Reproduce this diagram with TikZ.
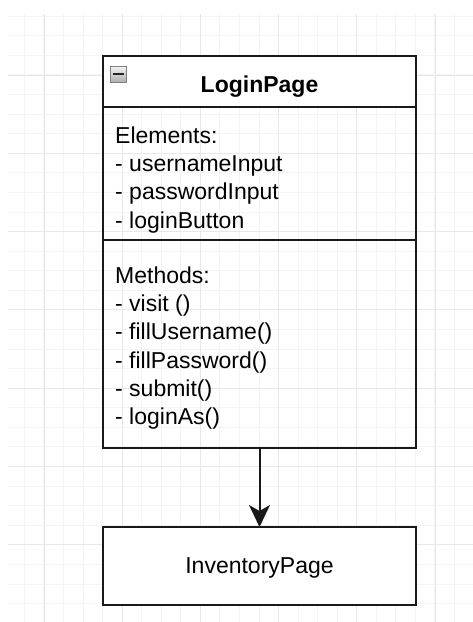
\documentclass[tikz,border=0pt]{standalone}
\usepackage{fontspec}
\setmainfont{Liberation Sans}
\usetikzlibrary{arrows.meta}
\usetikzlibrary{positioning}

\definecolor{gridminor}{HTML}{F4F4F4}
\definecolor{gridmajor}{HTML}{E8E8E8}
\definecolor{iconlight}{HTML}{F2F2F2}
\definecolor{icondark}{HTML}{ACACAC}

\begin{document}
\begin{tikzpicture}[
  x = 1pt, y = -1pt,
  > = {Stealth[length=22pt,width=21pt,inset=6pt]},
  every node/.style = {font=\fontsize{23}{28.3}\selectfont},
  umlbox/.style = {draw=black!90,line width=1.9pt,minimum width=313pt,inner sep=0pt,outer sep=0pt},
  members/.style = {anchor=north west,align=left,inner sep=0pt}
  ]
  \useasboundingbox (0,0) rectangle (473,622);
  \fill[white] (0,0) rectangle (473,622);

  % background grid
  \begin{scope}
    \clip (8,14) rectangle (473,622);
    \foreach \k in {0,...,23}
      \draw[gridminor,line width=1pt] ({24.4+\k*19.55},14) -- ({24.4+\k*19.55},622);
    \foreach \k in {0,...,31}
      \draw[gridminor,line width=1pt] (8,{16.2+\k*19.58}) -- (473,{16.2+\k*19.58});
    \foreach \k in {0,...,5}
      \draw[gridmajor,line width=1pt] ({44+\k*78.2},14) -- ({44+\k*78.2},622);
    \foreach \k in {0,...,6}
      \draw[gridmajor,line width=1pt] (8,{75+\k*78.32}) -- (473,{75+\k*78.32});
  \end{scope}

  % class box
  \node[umlbox,fill=white,minimum height=51pt] (header) at (259.5,81.5) {};
  \node[umlbox,minimum height=133pt,below=0pt of header] (elements) {};
  \node[umlbox,minimum height=208pt,below=0pt of elements] (methods) {};
  \node[anchor=base,font=\fontsize{23}{28.3}\selectfont\bfseries] (loginname)
    at ([yshift=15pt]header.south) {LoginPage};

  % collapse icon
  \shade[top color=iconlight,bottom color=icondark,draw=gray,line width=0.8pt]
    (110.5,66.5) rectangle (126,82.5);
  \fill[black!85] (113,72.6) rectangle (123.6,74.8);

  \node[members] (elementlist) at ([xshift=12pt,yshift=-19.5pt]elements.north west)
    {Elements:\\- usernameInput\\- passwordInput\\- loginButton};
  \node[members] (methodlist) at ([xshift=12pt,yshift=-26.5pt]methods.north west)
    {Methods:\\- visit ()\\- fillUsername()\\- fillPassword()\\- submit()\\- loginAs()};

  % next page
  \node[umlbox,fill=white,minimum height=78pt,text depth=0pt,below=79pt of methods] (inv) {InventoryPage};

  \draw[->,black!90,line width=2pt] (methods) -- (inv);
\end{tikzpicture}
\end{document}
